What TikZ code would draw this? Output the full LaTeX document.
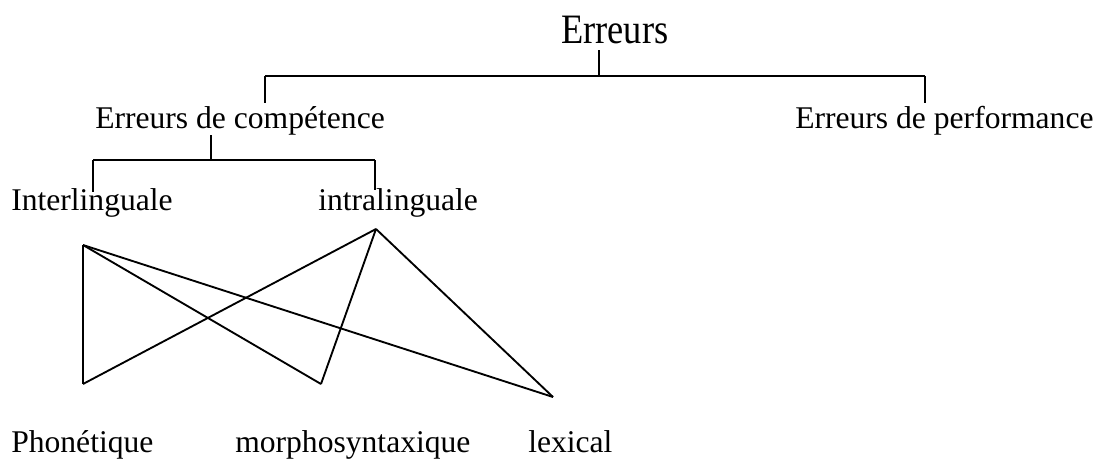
\documentclass[tikz,border=0pt]{standalone}
\usepackage{fontspec}
\setmainfont{Liberation Serif}
\usetikzlibrary{positioning,calc}

\begin{document}
\begin{tikzpicture}[x=.75pt,y=-.75pt,
 term/.style={anchor=base west,inner sep=0pt,font=\fontsize{23.7}{28}\selectfont},
 root/.style={term,font=\fontsize{27.3}{32}\selectfont},
 branch/.style={line width=.9pt},
 bar/.style={line width=1.5pt},
 link/.style={line width=1.4pt,line join=miter}]
\useasboundingbox (0,0) rectangle (1098,461);
% labels
\node[root] (err) at (561,43) {\scalebox{1}[1.15]{Erreurs}};
\node[term] (comp) at (95,128) {Erreurs de compétence};
\node[term] (perf) at (795,128) {Erreurs de performance};
\node[term] (inter) at (11,210) {Interlinguale};
\node[term] (intra) at (318,210) {intralinguale};
\node[term] (phon) at (11,452) {Phonétique};
\node[term] (morph) at (235,452) {morphosyntaxique};
\node[term] (lex) at (528,452) {lexical};

% first fork
\coordinate (err-stem) at (599,50);
\coordinate (err-foot) at (599,76);
\coordinate (comp-head) at (265,103);
\coordinate (perf-head) at (925,103);
\draw[branch] (err-stem)--(err-foot);
\draw[bar] (comp-head |- err-foot)--(perf-head |- err-foot);
\draw[branch] (comp-head |- err-foot)--(comp-head);
\draw[branch] (perf-head |- err-foot)--(perf-head);

% second fork
\coordinate (comp-stem) at (211,135);
\coordinate (comp-foot) at (211,160);
\coordinate (inter-head) at (93,192);
\coordinate (intra-head) at (375,190);
\draw[branch] (comp-stem)--(comp-foot);
\draw[bar] (inter-head |- comp-foot)--(intra-head |- comp-foot);
\draw[branch] (inter-head |- comp-foot)--(inter-head);
\draw[branch] (intra-head |- comp-foot)--(intra-head);

% crossing links
\coordinate (inter-pt) at (83,245);
\coordinate (intra-pt) at (376,229);
\coordinate (phon-pt) at (83,384);
\coordinate (morph-pt) at (321,384);
\coordinate (lex-pt) at (553,397);
\foreach \top in {inter-pt,intra-pt}
  \foreach \bot in {phon-pt,morph-pt,lex-pt}
    \draw[link] (\top)--(\bot);
\end{tikzpicture}
\end{document}
